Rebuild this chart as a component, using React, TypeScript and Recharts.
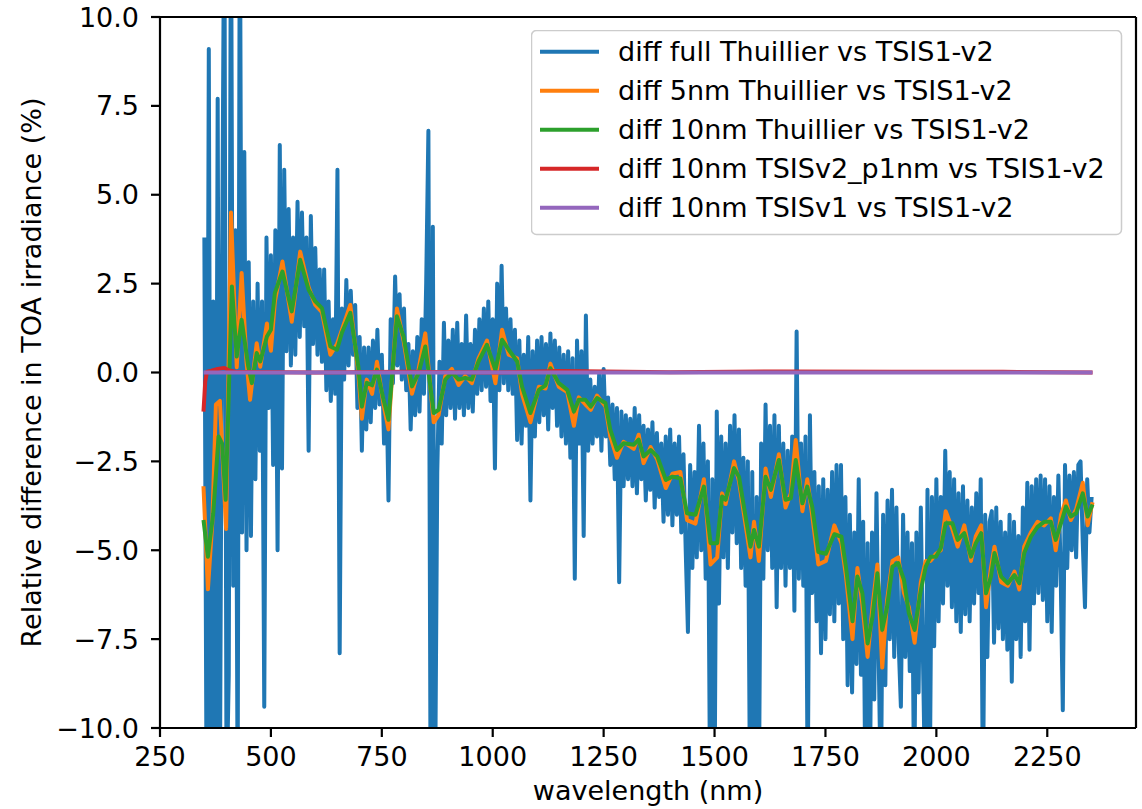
import React from 'react';
import { LineChart, Line, XAxis, YAxis, Legend, ReferenceLine } from 'recharts';

const FONT = '"DejaVu Sans", "Liberation Sans", sans-serif';
const FONT_SIZE = 27;

// plot box (px) inside the 1142x809 figure
const plotLeft = 160;
const plotTop = 17;
const plotRight = 1136;
const plotBottom = 728;

const xTicks = [250, 500, 750, 1000, 1250, 1500, 1750, 2000, 2250];
const yTicks = [-10, -7.5, -5, -2.5, 0, 2.5, 5, 7.5, 10];

const seriesNames = [
  'diff full Thuillier vs TSIS1-v2',
  'diff 5nm Thuillier vs TSIS1-v2',
  'diff 10nm Thuillier vs TSIS1-v2',
  'diff 10nm TSISv2_p1nm vs TSIS1-v2',
  'diff 10nm TSISv1 vs TSIS1-v2',
];
const seriesColors = ['#1f77b4', '#ff7f0e', '#2ca02c', '#d62728', '#9467bd'];

// full resolution difference, 5 nm grid from 350 nm (one row = 50 nm)
const blueStart = 350;
const blueStep = 5;
const blueVals = [
  3.8, -12, 9.1, -12, 2.0, -12, 7.7, -12, 3.0, 14,
  -12, -8.5, 14, -6.0, 4.0, -12, 14, -4.5, 6.2, -5.0,
  3.1, -4.6, 2.0, -3.0, 2.5, -2.2, 2.0, -9.4, 3.8, -1.0,
  3.3, -2.6, 4.0, -5.0, 6.4, -2.7, 5.7, 0.6, 4.6, 0.2,
  3.8, 0.5, 4.8, 1.0, 4.5, 1.3, 3.8, -2.2, 4.4, 0.8,
  3.5, 0.5, 2.9, 0.3, 2.9, -0.5, 2.0, -0.8, 1.5, -0.6,
  5.7, -7.9, 1.8, -0.2, 2.6, 0.2, 2.3, 0.5, 1.9, -1.0,
  1.0, -2.2, 0.7, -1.6, 0.7, -1.4, 0.9, -1.0, 1.2, -0.9,
  0.5, -2.0, 0.0, -3.6, 1.5, -0.3, 2.7, 0.2, 2.2, -0.2,
  1.8, -0.5, 0.8, -1.6, 0.6, -1.2, 1.0, -1.1, 1.5, -0.6,
  2.5, 6.8, -12, 4.1, -12, -2.8, 0.3, -2.0, 1.4, -1.2,
  0.9, -1.0, 1.2, -1.3, 1.4, -1.0, 0.8, -1.2, 1.6, -1.0,
  0.8, -1.1, 1.2, -0.6, 1.5, -0.5, 1.8, -0.4, 2.0, -0.8,
  1.5, -2.7, 2.5, -0.5, 3.0, -0.3, 1.8, -0.5, 1.5, -0.6,
  1.2, -1.9, 0.9, -2.0, 0.5, -1.5, 1.0, -3.6, 0.6, -1.8,
  0.9, -1.4, 1.0, -1.2, 0.8, -1.6, 1.1, -1.0, 0.9, -1.5,
  0.7, -1.8, 0.5, -2.0, 0.6, -2.4, 0.4, -5.8, 0.9, -2.0,
  0.6, -4.6, 1.6, -2.2, -0.2, -2.0, -0.4, -1.8, 0.0, -2.2,
  0.1, -1.8, -0.7, -2.6, -0.9, -3.0, -1.0, -5.9, -1.1, -3.2,
  -1.2, -3.0, -1.3, -3.2, -1.0, -3.4, -1.2, -3.0, -1.5, -3.6,
  -1.6, -3.3, -1.4, -3.8, -1.7, -3.5, -2.0, -4.2, -1.8, -4.0,
  -1.6, -4.3, -2.0, -4.0, -1.8, -4.5, -2.3, -5.0, -7.3, -2.6,
  -5.5, -2.8, -5.2, -1.5, -5.0, -2.0, -5.8, -2.5, -12, -3.0,
  -12, -1.1, -6.5, -1.8, -5.2, -2.0, -5.5, -1.5, -4.5, -1.2,
  -4.8, -1.6, -5.5, -2.4, -6.0, -2.5, -12, -2.8, -12, -3.5,
  -12, -2.0, -5.8, -0.9, -5.0, -1.5, -5.5, -1.2, -6.6, -1.5,
  -5.5, -2.0, -6.0, -2.2, -5.5, -1.8, -6.7, 1.15, -5.8, -2.0,
  -6.0, -1.8, -12, -1.2, -6.2, -2.8, -7.0, -3.2, -7.9, -3.0,
  -7.5, -3.3, -6.8, -2.8, -7.0, -2.6, -6.5, -2.6, -7.5, -3.5,
  -8.8, -4.0, -9.0, -4.5, -8.2, -3.0, -8.5, -4.2, -12, -4.8,
  -12, -4.5, -9.2, -3.4, -8.0, -12, -4.0, -8.8, -3.6, -7.5,
  -3.3, -8.0, -3.8, -7.6, -9.4, -4.0, -8.0, -4.5, -8.4, -4.8,
  -12, -4.5, -9.0, -3.8, -8.2, -12, -3.3, -12, -3.5, -7.7,
  -3.0, -7.0, -3.5, -6.5, -2.2, -6.0, -2.8, -6.6, -3.0, -7.0,
  -3.4, -7.3, -3.2, -6.8, -3.6, -7.0, -3.8, -6.5, -3.4, -6.2,
  -3.0, -12, -4.0, -8.0, -4.2, -3.9, -7.6, -3.8, -7.2, -4.2,
  -7.5, -4.5, -7.8, -4.0, -8.7, -4.2, -7.5, -4.6, -8.0, -3.8,
  -7.0, -3.1, -7.8, -3.2, -6.5, -3.0, -6.2, -2.9, -6.4, -3.0,
  -7.0, -3.2, -7.3, -3.5, -6.0, -2.9, -5.5, -9.5, -2.6, -5.5,
  -2.9, -5.0, -2.8, -5.2, -2.6, -2.5, -4.8, -6.6, -3.0, -4.5,
  -3.5,
];

// 5 nm smoothed
const orangeWl = [
  348, 358, 368, 376, 385, 399, 410, 423, 434, 445, 453, 468, 476, 491, 500, 509, 526, 547, 566, 585,
  600, 615, 634, 649, 660, 679, 697, 705, 716, 728, 739, 754, 765, 784, 799, 818, 833, 848, 867, 878,
  893, 908, 923, 938, 953, 968, 987, 1006, 1021, 1036, 1055, 1066, 1085, 1104, 1119, 1130, 1149, 1168, 1183, 1194,
  1209, 1221, 1235, 1254, 1265, 1280, 1295, 1318, 1329, 1340, 1356, 1371, 1390, 1405, 1423, 1438, 1457, 1476, 1491, 1506,
  1517, 1525, 1544, 1555, 1581, 1589, 1600, 1615, 1627, 1645, 1660, 1672, 1683, 1698, 1709, 1720, 1734, 1751, 1770, 1786,
  1796, 1811, 1822, 1833, 1845, 1856, 1867, 1878, 1889, 1901, 1914, 1927, 1938, 1951, 1965, 1976, 1987, 1999, 2010, 2021,
  2036, 2048, 2063, 2078, 2089, 2101, 2112, 2123, 2131, 2146, 2161, 2176, 2187, 2198, 2213, 2228, 2243, 2258, 2269, 2281,
  2292, 2303, 2315, 2330, 2341, 2352,
];
const orangeVals = [
  -3.2, -6.1, -4.2, -0.9, -0.8, -4.4, 4.5, 0.15, 2.8, 0.3, -0.77, 0.82, 0.16, 1.38, 0.61, 2.0, 3.12, 1.43, 3.4, 2.4,
  1.9, 1.7, 0.5, 0.8, 1.2, 1.9, 0.0, -1.3, -0.2, -0.6, 0.3, -0.9, -1.6, 1.8, 0.9, -0.6, 0.1, 1.1, -1.4, -1.2,
  -0.1, 0.1, -0.35, -0.1, -0.3, 0.4, 0.9, -0.3, 1.2, 0.5, 0.4, -0.6, -1.4, -0.4, -0.45, 0.25, -0.4, -0.55, -1.5, -0.7,
  -0.9, -1.05, -0.65, -0.95, -1.8, -2.4, -1.95, -2.15, -1.75, -2.55, -2.1, -2.45, -3.25, -2.85, -2.8, -4.15, -4.25, -3.0, -5.4, -5.2,
  -3.4, -3.7, -2.5, -3.05, -5.2, -4.2, -5.3, -2.7, -3.5, -2.3, -3.8, -3.4, -1.9, -3.9, -3.0, -4.0, -5.4, -5.3, -4.3, -4.8,
  -5.7, -7.5, -5.5, -6.5, -8.0, -6.6, -5.4, -8.3, -6.4, -5.3, -5.2, -6.2, -6.6, -7.6, -5.9, -5.3, -5.3, -5.1, -5.0, -3.9,
  -4.4, -4.9, -4.3, -5.3, -4.6, -4.3, -6.6, -5.5, -4.9, -5.9, -6.0, -5.6, -6.1, -4.9, -4.5, -4.2, -4.3, -4.1, -5.0, -4.0,
  -3.6, -4.15, -3.85, -3.1, -4.3, -3.65,
];

// 10 nm smoothed
const greenWl = [
  348, 358, 370, 382, 390, 398, 412, 423, 434, 449, 457, 468, 476, 491, 500, 509, 526, 547, 566, 585,
  600, 615, 634, 649, 660, 679, 697, 705, 716, 728, 739, 754, 765, 784, 799, 818, 833, 848, 867, 878,
  893, 908, 923, 938, 953, 968, 987, 1006, 1021, 1036, 1055, 1066, 1085, 1104, 1119, 1130, 1149, 1168, 1183, 1194,
  1209, 1221, 1235, 1254, 1265, 1280, 1295, 1318, 1329, 1340, 1356, 1371, 1390, 1405, 1423, 1438, 1457, 1476, 1491, 1506,
  1517, 1525, 1544, 1555, 1581, 1589, 1600, 1615, 1627, 1645, 1660, 1672, 1683, 1698, 1709, 1720, 1734, 1751, 1770, 1786,
  1796, 1811, 1822, 1833, 1845, 1856, 1867, 1878, 1889, 1901, 1914, 1927, 1938, 1951, 1965, 1976, 1987, 1999, 2010, 2021,
  2036, 2048, 2063, 2078, 2089, 2101, 2112, 2123, 2131, 2146, 2161, 2176, 2187, 2198, 2213, 2228, 2243, 2258, 2269, 2281,
  2292, 2303, 2315, 2330, 2341, 2352,
];
const greenVals = [
  -4.15, -5.18, -3.96, -1.8, -2.0, -3.58, 2.42, 0.45, 1.48, 0.17, -0.3, 0.55, 0.31, 1.01, 1.2, 2.24, 2.84, 1.72, 3.17, 2.33,
  2.0, 1.81, 0.73, 0.64, 1.12, 1.68, 0.17, -0.96, -0.29, -0.36, 0.08, -0.77, -1.33, 1.58, 1.01, -0.39, -0.02, 0.73, -1.14, -1.05,
  -0.2, 0.0, -0.2, -0.15, -0.2, 0.31, 0.78, 0.07, 0.92, 0.64, 0.31, -0.4, -1.14, -0.49, -0.36, 0.12, -0.3, -0.49, -1.1, -0.77,
  -0.77, -0.96, -0.72, -0.86, -1.61, -2.18, -1.99, -2.03, -1.89, -2.36, -2.18, -2.36, -3.02, -2.93, -2.98, -3.96, -4.0, -3.21, -4.8, -4.8,
  -3.49, -3.58, -2.69, -2.93, -4.9, -4.43, -4.9, -2.93, -3.3, -2.46, -3.58, -3.54, -2.46, -3.68, -3.21, -3.77, -5.05, -5.1, -4.55, -4.62,
  -5.46, -7.0, -5.74, -6.2, -7.62, -6.87, -5.65, -7.24, -6.59, -5.46, -5.36, -5.84, -6.77, -7.24, -6.12, -5.46, -5.18, -5.18, -4.94, -4.24,
  -4.24, -4.71, -4.52, -5.18, -4.8, -4.52, -6.21, -5.74, -5.08, -5.74, -5.93, -5.7, -5.93, -5.08, -4.62, -4.34, -4.2, -4.2, -4.71, -4.24,
  -3.77, -4.05, -3.96, -3.4, -4.05, -3.71,
];

const redWl = [348, 352, 356, 366, 380, 395, 405, 420, 600, 800, 1000, 1150, 1400, 1650, 1900, 2150, 2352];
const redVals = [-1.1, -0.25, 0.02, 0.05, 0.1, 0.13, 0.06, 0.02, 0.0, 0.02, 0.0, 0.04, 0.01, 0.03, 0.02, 0.02, 0.0];

const purpleWl = [348, 1000, 2352];
const purpleVals = [0.0, 0.0, 0.0];

const zip = (xs: number[], ys: number[]) => xs.map((wl, i) => ({ wl, v: ys[i] }));

const blueData = blueVals.map((v, i) => ({ wl: blueStart + i * blueStep, v }));
const orangeData = zip(orangeWl, orangeVals);
const greenData = zip(greenWl, greenVals);
const redData = zip(redWl, redVals);
const purpleData = zip(purpleWl, purpleVals);

const seriesData = [blueData, orangeData, greenData, redData, purpleData];

const fmtY = (v: number) => (v < 0 ? '\u2212' : '') + Math.abs(v).toFixed(1);

const textStyle = { fontFamily: FONT, fontSize: FONT_SIZE, fill: '#000' };

const YTitle = () => {
  const cy = (plotTop + plotBottom) / 2;
  return (
    <text x={41} y={cy} transform={`rotate(-90, 41, ${cy})`} textAnchor="middle" style={textStyle}>
      Relative difference in TOA irradiance (%)
    </text>
  );
};

const XTitle = () => (
  <text x={(plotLeft + plotRight) / 2} y={800} textAnchor="middle" style={textStyle}>
    wavelength (nm)
  </text>
);

const LegendBox = () => (
  <svg width={592} height={206} style={{ display: 'block' }}>
    <rect x={0.5} y={0.5} width={590} height={204} rx={5} fill="#fff" fillOpacity={0.8} stroke="#cccccc" strokeWidth={1.5} />
    {seriesNames.map((name, i) => {
      const y = 21.7 + i * 39;
      return (
        <g key={name}>
          <line x1={9} x2={68} y1={y} y2={y} stroke={seriesColors[i]} strokeWidth={4} />
          <text x={87} y={y} dy="0.36em" style={textStyle}>
            {name}
          </text>
        </g>
      );
    })}
  </svg>
);

const App = () => (
  <div style={{ position: 'absolute', left: 0, top: 0 }}>
    <LineChart
      width={1142}
      height={809}
      margin={{ top: plotTop, right: 1142 - plotRight, bottom: 0, left: 0 }}
    >
      <XAxis
        dataKey="wl"
        type="number"
        domain={[250, 2450]}
        ticks={xTicks}
        interval={0}
        height={809 - plotBottom}
        tickSize={9}
        tickMargin={10}
        axisLine={{ stroke: '#000', strokeWidth: 2.2 }}
        tickLine={{ stroke: '#000', strokeWidth: 2.2 }}
        tick={textStyle}
        label={<XTitle />}
      />
      <YAxis
        type="number"
        domain={[-10, 10]}
        allowDataOverflow
        ticks={yTicks}
        interval={0}
        width={plotLeft}
        tickSize={9}
        tickMargin={12}
        tickFormatter={fmtY}
        axisLine={{ stroke: '#000', strokeWidth: 2.2 }}
        tickLine={{ stroke: '#000', strokeWidth: 2.2 }}
        tick={textStyle}
        label={<YTitle />}
      />
      {seriesData.map((d, i) => (
        <Line
          key={seriesNames[i]}
          data={d}
          dataKey="v"
          name={seriesNames[i]}
          type="linear"
          stroke={seriesColors[i]}
          strokeWidth={4}
          strokeLinejoin="round"
          dot={false}
          activeDot={false}
          isAnimationActive={false}
        />
      ))}
      <ReferenceLine y={10} stroke="#000" strokeWidth={2.2} />
      <ReferenceLine x={2450} stroke="#000" strokeWidth={2.2} />
      <Legend
        layout="horizontal"
        verticalAlign="middle"
        align="center"
        wrapperStyle={{ left: 531, top: 30, width: 592, height: 206 }}
        content={() => <LegendBox />}
      />
    </LineChart>
  </div>
);

export default App;
